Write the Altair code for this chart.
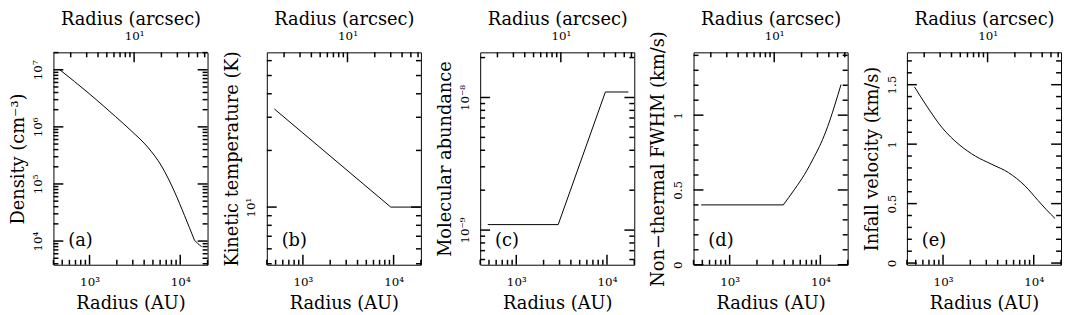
import altair as alt
import pandas as pd

FONT = "DejaVu Serif"
AU_PER_ARCSEC = 310          # distance in pc -> AU per arcsec
R_DOMAIN = [400, 20000]      # AU
W, H = 156, 215
MAJ, MIN = 10, 5             # tick lengths (px)
TICK_W = 1.5

# ---- bottom (AU) and top (arcsec) ticks ----
X_MAJOR = [1000, 10000]
X_MAJOR_LABELS = ["10³", "10⁴"]
X_MINOR = [400, 500, 600, 700, 800, 900, 2000, 3000, 4000, 5000, 6000, 7000, 8000, 9000, 20000]
ARC_MAJOR = [10]
ARC_MAJOR_LABELS = ["10¹"]
ARC_MINOR = [2, 3, 4, 5, 6, 7, 8, 9, 20, 30, 40, 50, 60]

# ---- (a) density ----
dens_r = [470, 986, 1928, 2925, 4440, 6210, 8680, 11150, 14330, 14330, 15550, 17200]
dens_n = [1.0e7, 3.85e6, 1.52e6, 8.35e5, 4.3e5, 2.07e5, 7.2e4, 2.8e4, 1.04e4, 1.04e4, 9.1e3, 8.0e3]
dens_seg = [0, 0, 0, 0, 0, 0, 0, 0, 0, 1, 1, 1]
dens_dom = [3850, 2.02e7]
dens_major = [1e4, 1e5, 1e6, 1e7]
dens_major_labels = ["10⁴", "10⁵", "10⁶", "10⁷"]
dens_minor = [4000, 5000, 6000, 7000, 8000, 9000,
              2e4, 3e4, 4e4, 5e4, 6e4, 7e4, 8e4, 9e4,
              2e5, 3e5, 4e5, 5e5, 6e5, 7e5, 8e5, 9e5,
              2e6, 3e6, 4e6, 5e6, 6e6, 7e6, 8e6, 9e6, 2e7]

# ---- (b) kinetic temperature ----
temp_r = [485, 9300, 20000]
temp_T = [33.2, 10.0, 10.0]
temp_seg = [0, 0, 0]
temp_dom = [4.94, 66.4]
temp_major = [10]
temp_major_labels = ["10¹"]
temp_minor = [5, 6, 7, 8, 9, 20, 30, 40, 50, 60]

# ---- (c) molecular abundance ----
abun_r = [485, 2900, 9600, 17200]
abun_x = [1.1e-9, 1.1e-9, 1.1e-8, 1.1e-8]
abun_seg = [0, 0, 0, 0]
abun_dom = [5.48e-10, 2.19e-8]
abun_major = [1e-9, 1e-8]
abun_major_labels = ["10⁻⁹", "10⁻⁸"]
abun_minor = [6e-10, 7e-10, 8e-10, 9e-10,
              2e-9, 3e-9, 4e-9, 5e-9, 6e-9, 7e-9, 8e-9, 9e-9, 2e-8]

# ---- (d) non-thermal FWHM ----
fwhm_r = [485, 3900, 3900, 5210, 6700, 8610, 10170, 12030, 14220, 16900]
fwhm_v = [0.40, 0.40, 0.40, 0.505, 0.604, 0.725, 0.813, 0.923, 1.055, 1.205]
fwhm_seg = [0, 0, 1, 1, 1, 1, 1, 1, 1, 1]
fwhm_dom = [0.0, 1.42]
fwhm_major = [0, 0.5, 1.0]
fwhm_major_labels = ["0", "0.5", "1"]
fwhm_minor = [0.1, 0.2, 0.3, 0.4, 0.6, 0.7, 0.8, 0.9, 1.1, 1.2, 1.3, 1.4]

# ---- (e) infall velocity ----
inf_r = [485, 650, 986, 1500, 2280, 3460, 5260, 8000, 11170, 13750, 17200]
inf_v = [1.481, 1.329, 1.135, 0.997, 0.899, 0.830, 0.761, 0.650, 0.526, 0.450, 0.375]
inf_seg = [0] * 11
inf_dom = [-0.014, 1.772]
inf_major = [0, 0.5, 1.0, 1.5]
inf_major_labels = ["0", "0.5", "1", "1.5"]
inf_minor = [0.1, 0.2, 0.3, 0.4, 0.6, 0.7, 0.8, 0.9, 1.1, 1.2, 1.3, 1.4, 1.6, 1.7]


def lab_expr(vals, labs):
    parts = [f"abs(datum.value - {v!r}) <= {abs(v) * 1e-6 + 1e-15!r} ? '{l}'"
             for v, l in zip(vals, labs)]
    return " : ".join(parts) + " : ''"


def xticks(vals, length, side, field, scale):
    df = pd.DataFrame({field: vals})
    if side == "bottom":
        yy, yy2 = alt.value(H), alt.value(H - length)
    else:
        yy, yy2 = alt.value(0), alt.value(length)
    return alt.Chart(df).mark_rule(color="black", strokeWidth=TICK_W).encode(
        x=alt.X(f"{field}:Q", scale=scale, axis=None), y=yy, y2=yy2)


def yticks(vals, length, side, scale):
    df = pd.DataFrame({"v": vals})
    if side == "left":
        xx, xx2 = alt.value(0), alt.value(length)
    else:
        xx, xx2 = alt.value(W - length), alt.value(W)
    return alt.Chart(df).mark_rule(color="black", strokeWidth=TICK_W).encode(
        y=alt.Y("v:Q", scale=scale, axis=None), x=xx, x2=xx2)


def panel(r, v, seg, ytitle, ytype, ydom, ymaj, ymaj_labels, ymin, letter, interp):
    df = pd.DataFrame({"r": r, "v": v, "seg": seg})
    base = alt.Chart(df)
    xs = alt.Scale(type="log", domain=R_DOMAIN, nice=False)
    arc_dom = [R_DOMAIN[0] / AU_PER_ARCSEC, R_DOMAIN[1] / AU_PER_ARCSEC]
    xa = alt.Scale(type="log", domain=arc_dom, nice=False)
    if ytype == "log":
        ys = alt.Scale(type="log", domain=ydom, nice=False)
    else:
        ys = alt.Scale(type="linear", domain=ydom, nice=False, zero=False)

    line = base.mark_line(color="black", strokeWidth=1, interpolate=interp, clip=True).encode(
        x=alt.X("r:Q", scale=xs,
                axis=alt.Axis(orient="bottom", values=X_MAJOR,
                              labelExpr=lab_expr(X_MAJOR, X_MAJOR_LABELS),
                              ticks=False, tickSize=0, domain=False,
                              labelPadding=12, labelOverlap=False, labelFlush=False,
                              title="Radius (AU)", titlePadding=10,
                              minExtent=20, maxExtent=20)),
        y=alt.Y("v:Q", scale=ys,
                axis=alt.Axis(orient="left", values=ymaj,
                              labelExpr=lab_expr(ymaj, ymaj_labels),
                              ticks=False, tickSize=0, domain=False,
                              labelPadding=9,
                              labelAngle=270, labelAlign="center", labelBaseline="bottom",
                              labelOverlap=False, labelFlush=False,
                              title=ytitle, titlePadding=7,
                              minExtent=19, maxExtent=19)),
        detail="seg:N",
    )
    top = base.transform_calculate(arc=f"datum.r / {AU_PER_ARCSEC}").mark_line(opacity=0).encode(
        x=alt.X("arc:Q", scale=xa,
                axis=alt.Axis(orient="top", values=ARC_MAJOR,
                              labelExpr=lab_expr(ARC_MAJOR, ARC_MAJOR_LABELS),
                              ticks=False, tickSize=0, domain=False,
                              labelPadding=10, labelOverlap=False, labelFlush=False,
                              title="Radius (arcsec)", titlePadding=8,
                              minExtent=16, maxExtent=16)),
        y=alt.Y("v:Q", scale=ys, axis=None),
    )
    rules = [
        xticks(X_MAJOR, MAJ, "bottom", "r", xs),
        xticks(X_MINOR, MIN, "bottom", "r", xs),
        xticks(ARC_MAJOR, MAJ, "top", "arc", xa),
        xticks(ARC_MINOR, MIN, "top", "arc", xa),
        yticks(ymaj, MAJ, "left", ys),
        yticks(ymin, MIN, "left", ys),
        yticks(ymaj, MAJ, "right", ys),
        yticks(ymin, MIN, "right", ys),
    ]
    lab = alt.Chart(pd.DataFrame({"t": [letter]})).mark_text(
        align="left", baseline="middle", font=FONT, fontSize=18, color="black"
    ).encode(x=alt.value(15), y=alt.value(191), text="t:N")

    return alt.layer(line, top, *rules, lab).resolve_scale(
        x="independent", y="independent").properties(width=W, height=H)


panels = [
    panel(dens_r, dens_n, dens_seg, "Density (cm⁻³)", "log", dens_dom, dens_major,
          dens_major_labels, dens_minor, "(a)", "monotone"),
    panel(temp_r, temp_T, temp_seg, "Kinetic temperature (K)", "log", temp_dom, temp_major,
          temp_major_labels, temp_minor, "(b)", "linear"),
    panel(abun_r, abun_x, abun_seg, "Molecular abundance", "log", abun_dom, abun_major,
          abun_major_labels, abun_minor, "(c)", "linear"),
    panel(fwhm_r, fwhm_v, fwhm_seg, "Non−thermal FWHM (km/s)", "linear", fwhm_dom, fwhm_major,
          fwhm_major_labels, fwhm_minor, "(d)", "monotone"),
    panel(inf_r, inf_v, inf_seg, "Infall velocity (km/s)", "linear", inf_dom, inf_major,
          inf_major_labels, inf_minor, "(e)", "monotone"),
]

chart = alt.hconcat(*panels, spacing=13).properties(
    padding={"left": 1, "top": 0, "right": 0, "bottom": 0},
    background="white",
).configure_view(
    stroke="black", strokeWidth=1
).configure_axis(
    labelFont=FONT, labelFontSize=12, labelColor="black",
    titleFont=FONT, titleFontSize=18, titleFontWeight="normal", titleColor="black",
    grid=False,
)

chart.save("out.html", embed_options={"renderer": "svg", "actions": False})
